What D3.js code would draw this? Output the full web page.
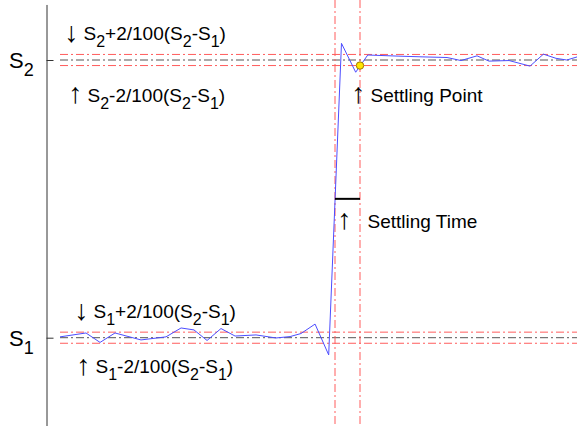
<!DOCTYPE html>
<html>
<head>
<meta charset="utf-8">
<script src="https://cdn.jsdelivr.net/npm/d3@7"></script>
<style>
  body { margin: 0; background: #fff; }
  svg { display: block; font-family: "Liberation Sans", Arial, sans-serif; }
</style>
</head>
<body>
<div id="chart"></div>
<script>
// step response samples (time, normalised level: S1 = 0, S2 = 1)
const times = [0, 1.81, 2.79, 3.83, 5.64, 7.38, 8.43, 9.33, 10.24, 11.21, 12.19, 13.65, 15.04, 16.02, 16.78, 17.76, 18.71, 19.6, 20.59, 21.43, 23.54, 25.42, 26.95, 27.92, 29.04, 29.87, 31.27, 32.73, 33.66, 34.54, 35.29, 36];
const signal = [0.003, 0.017, -0.017, 0.017, -0.008, 0.003, 0.035, 0.028, -0.01, 0.033, 0.006, 0.01, -0.001, 0.004, 0.015, 0.049, -0.062, 1.06, 0.956, 1.018, 1.014, 1.011, 1.009, 0.998, 1.015, 0.996, 0.998, 0.978, 1.021, 1.006, 1.0, 1.011];

const levels = [0, 1];
const levelNames = ["1", "2"];
const tolerance = 0.02;

const settleTimes = [19.15, 20.89]; // step start, settling point
const settleValue = 0.98;
const settleBarLevel = 0.5;

const width = 577;
const height = 426;

const x = d3.scaleLinear().domain([0, 36]).range([60, 577]);
const y = d3.scaleLinear().domain([0, 1]).range([337.7, 60]);

const svg = d3
  .select("#chart")
  .append("svg")
  .attr("width", width)
  .attr("height", height);

const dash = "8,3,2,3";

// tolerance bands
const bandLines = levels.flatMap((l) => [l - tolerance, l + tolerance]);
svg
  .selectAll("line.band")
  .data(bandLines)
  .join("line")
  .attr("class", "band")
  .attr("x1", x(0))
  .attr("x2", x(36))
  .attr("y1", (d) => y(d))
  .attr("y2", (d) => y(d))
  .attr("stroke", "#ff5c5c")
  .attr("stroke-dasharray", dash);

// final levels
svg
  .selectAll("line.level")
  .data(levels)
  .join("line")
  .attr("class", "level")
  .attr("x1", x(0))
  .attr("x2", x(36))
  .attr("y1", (d) => y(d))
  .attr("y2", (d) => y(d))
  .attr("stroke", "#555")
  .attr("stroke-dasharray", dash);

// vertical markers
svg
  .selectAll("line.vert")
  .data(settleTimes)
  .join("line")
  .attr("class", "vert")
  .attr("x1", (d) => x(d))
  .attr("x2", (d) => x(d))
  .attr("y1", 0)
  .attr("y2", height)
  .attr("stroke", "#ff5c5c")
  .attr("stroke-dasharray", dash);

// axis
const yAxisScale = d3
  .scaleLinear()
  .domain([-0.35, 1.2])
  .range([y(-0.35), y(1.2)]);

const axis = svg
  .append("g")
  .attr("transform", "translate(46.5,0)")
  .call(
    d3.axisRight(yAxisScale).tickValues(levels).tickSize(7).tickSizeOuter(0).tickFormat("")
  );
axis.selectAll("path, line").attr("stroke", "#333");

// signal
const line = d3
  .line()
  .x((d, i) => x(times[i]))
  .y((d) => y(d));

svg
  .append("path")
  .datum(signal)
  .attr("d", line)
  .attr("fill", "none")
  .attr("stroke", "#4d4dff")
  .attr("stroke-width", 1);

// settling time bar
svg
  .append("line")
  .attr("x1", x(settleTimes[0]))
  .attr("x2", x(settleTimes[1]))
  .attr("y1", y(settleBarLevel))
  .attr("y2", y(settleBarLevel))
  .attr("stroke", "#000")
  .attr("stroke-width", 2);

// settling point
svg
  .append("circle")
  .attr("cx", x(settleTimes[1]))
  .attr("cy", y(settleValue))
  .attr("r", 3.7)
  .attr("fill", "#ffe600")
  .attr("stroke", "#a07800")
  .attr("stroke-width", 1);

// rich text helper: parts are [text, kind] with kind "n", "sub" or "arrow"
function richText(px, py, parts, size, subSize, shift) {
  const t = svg
    .append("text")
    .attr("x", px)
    .attr("y", py)
    .attr("font-size", size)
    .attr("fill", "#000");
  let down = false;
  parts.forEach(([s, kind]) => {
    const sp = t.append("tspan").text(s);
    if (kind === "arrow") {
      sp.attr("font-size", size * 1.5).attr("dy", 1.5);
      down = "arrow";
    } else if (kind === "sub") {
      sp.attr("font-size", subSize);
      if (down !== true) sp.attr("dy", shift - (down === "arrow" ? 1.5 : 0));
      down = true;
    } else {
      if (down === true) sp.attr("dy", -shift);
      if (down === "arrow") sp.attr("dy", -1.5);
      down = false;
    }
  });
  return t;
}

// axis labels
levels.forEach((l, i) => {
  richText(9, y(l) + 8, [["S", "n"], [levelNames[i], "sub"]], 22, 18, 8);
});

// band annotations
const formula = (arrow, n, sign) => [
  [arrow, "arrow"],
  [" S", "n"],
  [n, "sub"],
  [sign + "2/100(S", "n"],
  ["2", "sub"],
  ["-S", "n"],
  ["1", "sub"],
  [")", "n"],
];

richText(64, y(1) - 20, formula("\u2193", "2", "+"), 19, 16, 7);
richText(68, y(1) + 41.5, formula("\u2191", "2", "-"), 19, 16, 7);
richText(74, y(0) - 19.5, formula("\u2193", "1", "+"), 19, 16, 7);
richText(76, y(0) + 35.5, formula("\u2191", "1", "-"), 19, 16, 7);

// settling annotations
richText(x(settleTimes[1]) - 9, y(1) + 41.5, [["\u2191", "arrow"], [" Settling Point", "n"]], 19, 16, 7);
richText(x(settleTimes[0]) + 2, y(settleBarLevel) + 29, [["\u2191", "arrow"]], 19, 16, 7);

svg
  .append("text")
  .attr("x", x(settleTimes[1]) + 7.5)
  .attr("y", y(settleBarLevel) + 29)
  .attr("font-size", 19)
  .text("Settling Time");
</script>
</body>
</html>
